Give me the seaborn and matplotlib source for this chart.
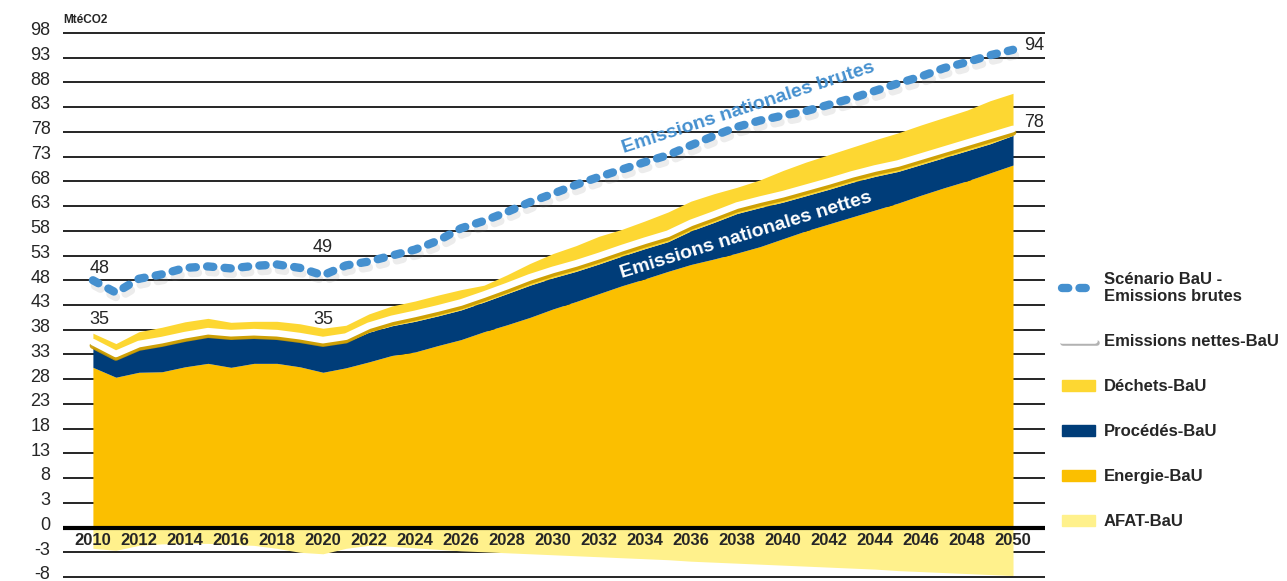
import matplotlib
matplotlib.use("Agg")
import matplotlib.pyplot as plt
import matplotlib.patheffects as pe
import matplotlib.transforms as mtransforms
from matplotlib.lines import Line2D
from matplotlib.patches import Patch
import numpy as np
import pandas as pd
import seaborn as sns

# années
years = list(range(2010, 2051))

# émissions brutes (ligne pointillée bleue)
brutes = [48.0, 45.5, 48.3, 49.2, 50.5, 50.8, 50.4, 50.9, 51.2, 50.5,
          49.0, 51.0, 51.8, 53.0, 54.2, 56.0, 58.5, 60.0, 61.8, 63.8,
          65.5, 67.3, 68.9, 70.4, 71.9, 73.3, 75.3, 77.2, 79.0, 80.3,
          81.3, 82.2, 83.5, 84.8, 86.3, 87.8, 89.2, 90.9, 92.1, 93.5, 94.6]

# émissions nettes (ligne blanche)
nettes = [35.5, 33.1, 35.1, 35.9, 36.9, 37.7, 37.3, 37.5, 37.3, 36.7,
          35.9, 36.6, 38.8, 40.2, 41.2, 42.3, 43.5, 45.1, 46.8, 48.6,
          50.1, 51.4, 52.9, 54.5, 56.0, 57.4, 59.6, 61.3, 63.1, 64.3,
          65.4, 66.7, 68.0, 69.4, 70.6, 71.6, 73.0, 74.4, 75.8, 77.2, 78.6]

# sommets cumulés des aires empilées
energie_top = [30.4, 28.4, 29.4, 29.5, 30.5, 31.2, 30.4, 31.2, 31.2, 30.5,
               29.4, 30.3, 31.5, 32.8, 33.5, 34.8, 36.0, 37.6, 39.0, 40.5,
               42.2, 43.7, 45.3, 46.9, 48.3, 49.8, 51.2, 52.3, 53.5, 54.8,
               56.4, 58.0, 59.4, 60.8, 62.2, 63.6, 65.2, 66.7, 68.1, 69.7, 71.3]
procedes_top = [34.4, 32.0, 34.0, 34.8, 35.8, 36.6, 36.2, 36.4, 36.2, 35.6,
                34.8, 35.5, 37.5, 38.8, 39.7, 40.8, 42.0, 43.6, 45.3, 47.0,
                48.5, 49.8, 51.3, 52.9, 54.4, 55.8, 58.0, 59.7, 61.5, 62.7,
                63.8, 65.1, 66.4, 67.8, 69.0, 70.0, 71.4, 72.8, 74.2, 75.6, 77.3]
dechets_top = [37.3, 35.2, 37.6, 38.5, 39.6, 40.3, 39.5, 39.7, 39.7, 39.2,
               38.3, 38.9, 41.2, 42.8, 43.8, 45.0, 46.1, 47.0, 49.1, 51.4,
               53.4, 55.0, 56.9, 58.3, 60.0, 61.8, 64.0, 65.5, 66.8, 68.3,
               70.2, 71.9, 73.4, 74.9, 76.4, 77.8, 79.4, 80.9, 82.4, 84.3, 85.8]
# AFAT (puits, négatif)
afat = [-4.2, -4.6, -3.6, -3.3, -3.2, -3.2, -3.4, -3.6, -4.2, -5.0,
        -5.3, -4.2, -3.6, -3.8, -4.1, -4.4, -4.7, -4.9, -5.1, -5.3,
        -5.5, -5.7, -5.9, -6.1, -6.3, -6.5, -6.8, -7.0, -7.2, -7.4,
        -7.6, -7.8, -8.0, -8.2, -8.4, -8.7, -8.9, -9.1, -9.3, -9.5, -9.7]

# axe y : positions régulières, libellés tels qu'affichés
ytick_pos = [98, 93, 88, 83, 78, 73, 68, 63, 58, 53, 48, 43, 38, 33, 28, 23, 18, 13, 8, 3, -2, -7, -12]
ytick_lab = ["98", "93", "88", "83", "78", "73", "68", "63", "58", "53", "48", "43",
             "38", "33", "28", "23", "18", "13", "8", "3", "0", "-3", "-8"]
BASE = -2  # position de la ligne "0"

C_ENERGIE = "#FBBF00"
C_PROCEDES = "#003D79"
C_DECHETS = "#FDD732"
C_AFAT = "#FFF18C"
C_BRUTES = "#4590CF"

sns.set_theme(style="white")
plt.rcParams["font.family"] = ["Liberation Sans", "DejaVu Sans"]

df = pd.DataFrame({"annee": years, "brutes": brutes, "nettes": nettes})

fig = plt.figure(figsize=(12.87, 5.81), dpi=100)
ax = fig.add_axes([63 / 1287, 2 / 581, 982 / 1287, 548 / 581])

x = np.array(years)
ax.fill_between(x, BASE, BASE + np.array(afat), color=C_AFAT, lw=0, zorder=2)
ax.fill_between(x, BASE, energie_top, color=C_ENERGIE, lw=0, zorder=2)
ax.fill_between(x, energie_top, procedes_top, color=C_PROCEDES, lw=0, zorder=2)
ax.fill_between(x, procedes_top, dechets_top, color=C_DECHETS, lw=0, zorder=2)

sns.lineplot(data=df, x="annee", y="nettes", ax=ax, color="white", lw=4.8, zorder=4)
ln = ax.lines[-1]
ln.set_path_effects([pe.SimpleLineShadow(offset=(0, -2.5), shadow_color="#C99A00", alpha=0.9),
                     pe.Normal()])

sns.lineplot(data=df, x="annee", y="brutes", ax=ax, color=C_BRUTES, lw=6, zorder=6)
lb = ax.lines[-1]
lb.set_dashes([0.75, 1.35])
lb.set_dash_capstyle("round")
lb.set_path_effects([pe.SimpleLineShadow(offset=(1.5, -4), shadow_color="0.5", alpha=0.15),
                     pe.Normal()])

ax.axhline(BASE, color="black", lw=3, zorder=3)

ax.set_xlim(2008.7, 2051.39)
ax.set_ylim(-12.4, 98.4)
ax.set_yticks(ytick_pos)
ax.set_yticklabels(ytick_lab, fontsize=13)
ax.set_xticks([])
ax.set_xlabel("")
ax.set_ylabel("")
ax.tick_params(axis="y", length=0, pad=9)
ax.yaxis.grid(True, color="black", lw=1.2)
ax.set_axisbelow(True)
for s in ax.spines.values():
    s.set_visible(False)

# libellés y légèrement au-dessus des lignes, comme dans l'original
shift = mtransforms.ScaledTranslation(0, 3 / 72, fig.dpi_scale_trans)
for lab in ax.get_yticklabels():
    lab.set_transform(lab.get_transform() + shift)

# années sous l'axe
for yr in years[::2]:
    ax.text(yr, -4.6, str(yr), ha="center", va="center", fontsize=12,
            fontweight="bold", zorder=5)

# étiquettes de valeurs
for xx, yy, t in [(2010.3, 50.4, "48"), (2020.0, 54.6, "49"), (2010.3, 40.1, "35"),
                  (2020.0, 40.1, "35"), (2050.9, 95.5, "94"), (2050.9, 79.9, "78")]:
    ax.text(xx, yy, t, ha="center", va="center", fontsize=13, zorder=7)

ax.text(2038.5, 82.8, "Emissions nationales brutes", color=C_BRUTES, fontsize=14,
        fontweight="bold", rotation=18, ha="center", va="center", rotation_mode="anchor", zorder=7)
ax.text(2038.4, 57.0, "Emissions nationales nettes", color="white", fontsize=14,
        fontweight="bold", rotation=17, ha="center", va="center", rotation_mode="anchor", zorder=7)

fig.text(63 / 1287, 1 - 20 / 581, "MtéCO2", fontsize=8.5, fontweight="bold", va="center")

handles = [
    Line2D([], [], color=C_BRUTES, lw=6, dashes=[0.75, 1.35], dash_capstyle="round"),
    Line2D([], [], color="white", lw=4,
           path_effects=[pe.SimpleLineShadow(offset=(1, -2), shadow_color="0.4", alpha=0.5), pe.Normal()]),
    Patch(color=C_DECHETS),
    Patch(color=C_PROCEDES),
    Patch(color=C_ENERGIE),
    Patch(color=C_AFAT),
]
labels = ["Scénario BaU -\nEmissions brutes", "Emissions nettes-BaU", "Déchets-BaU",
          "Procédés-BaU", "Energie-BaU", "AFAT-BaU"]
fig.legend(handles, labels, loc="upper left", bbox_to_anchor=(1062 / 1287, 1 - 272 / 581),
           frameon=False, prop={"weight": "bold", "size": 12}, labelspacing=1.8,
           handlelength=2.0, handletextpad=0.5, borderaxespad=0, borderpad=0)

fig.savefig("out.png", dpi=100)
